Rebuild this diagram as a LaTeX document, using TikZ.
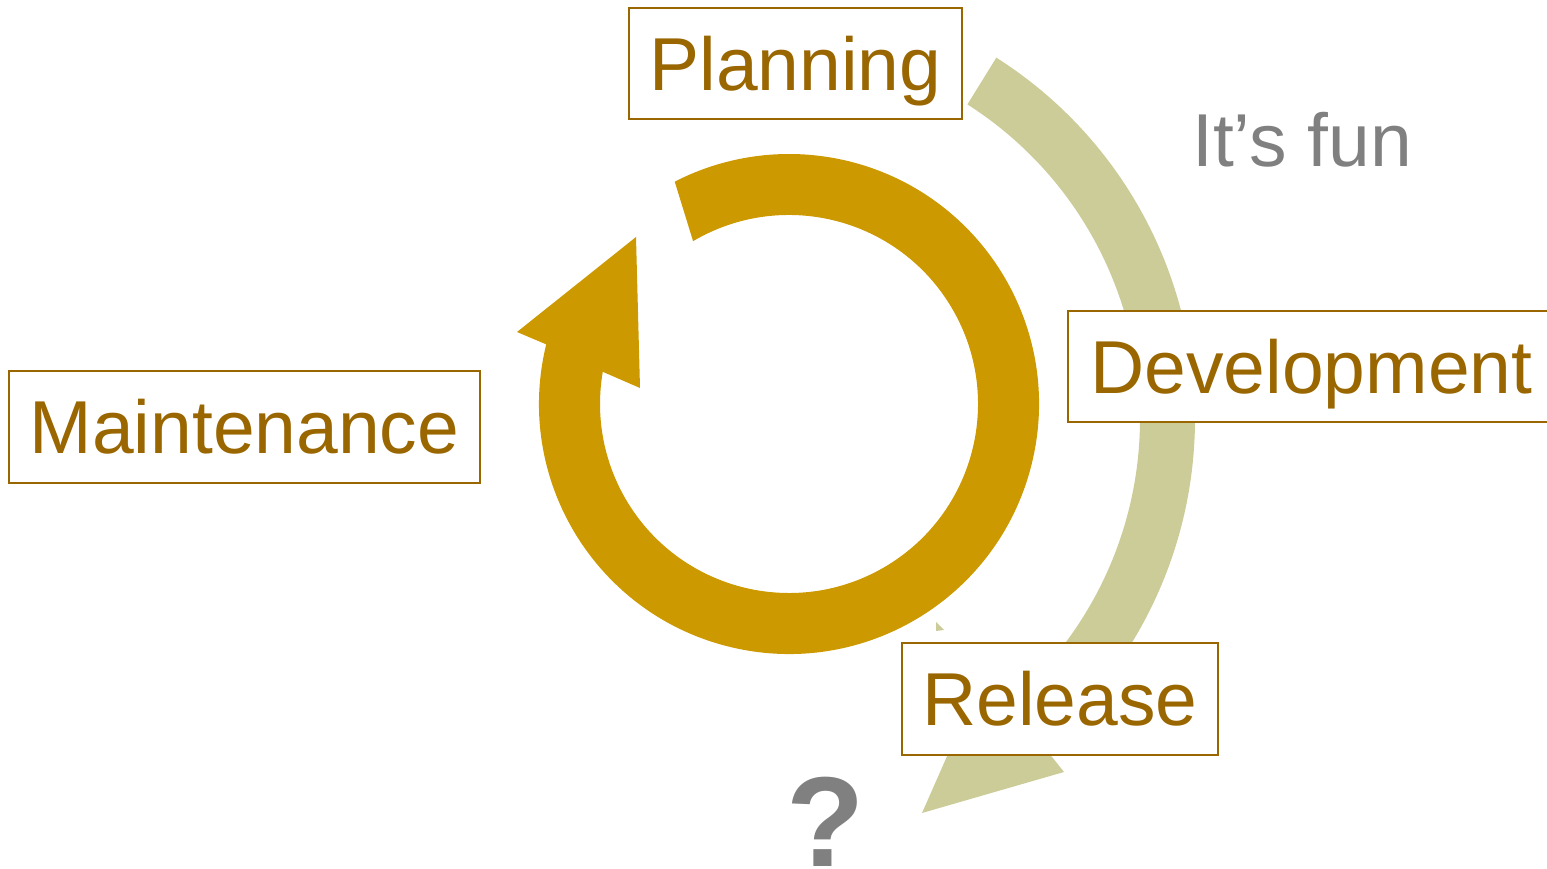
\documentclass[tikz,border=0pt]{standalone}
\usepackage{fontspec}
\setmainfont{Liberation Sans}
\usetikzlibrary{calc}
\definecolor{ringgold}{HTML}{CC9900}
\definecolor{olivearc}{HTML}{CCCC99}
\definecolor{stagebrown}{HTML}{996600}
\definecolor{fungrey}{HTML}{808080}
\begin{document}
\begin{tikzpicture}[x=1pt,y=1pt,
  stagebox/.style={draw=stagebrown, line width=2pt, fill=white, text=stagebrown,
    inner sep=0pt, text height=54pt, text depth=0pt,
    font=\fontsize{75}{80}\selectfont},
  stagetext/.style={fill=white, text=stagebrown, inner sep=0pt,
    text height=54pt, text depth=0pt, font=\fontsize{75}{80}\selectfont},
  boxline/.style={draw=stagebrown, line width=2pt},
  remark/.style={text=fungrey, inner sep=0pt, font=\fontsize{75}{80}\selectfont}]
\useasboundingbox (0,0) rectangle (1547,869);
% olive arc (behind boxes)
\coordinate (oc) at (767,450);
\fill[olivearc] ($(oc)+(57.6:428)$) arc[start angle=57.6,end angle=-49.8,radius=428pt]
  -- (1064,97) -- (922,56) -- (985,199)
  -- ($(oc)+(-49.4:373)$) arc[start angle=-49.4,end angle=57.5,radius=373pt] -- cycle;
\fill[olivearc] (936,247) -- (936,238) -- (944,239) -- cycle;
% gold ring
\coordinate (gc) at (789,465);
\fill[ringgold] ($(gc)+(166.2:250)$) arc[start angle=166.2,end angle=477.2,radius=250pt]
  -- ($(gc)+(120.5:189)$) arc[start angle=480.5,end angle=170.2,radius=189pt]
  -- (640,481) -- (636,632) -- (517,537) -- cycle;
% boxes
\node[stagebox, minimum width=333pt, minimum height=111pt] (plan) at (795.5,805.5) {Planning};
\node[stagebox, minimum width=471pt, minimum height=112pt] (maint) at (244.5,442) {Maintenance};
\node[stagebox, minimum width=316pt, minimum height=112pt] (rel) at (1060,170) {Release};
\node[stagetext, minimum width=479pt, minimum height=111pt] (dev) at (1307.5,502.5) {\hspace*{8pt}Development};
\draw[boxline] (dev.north east) -- (dev.north west) -- (dev.south west) -- (dev.south east);
% remarks
\node[remark, anchor=base west] (fun) at (1192,702) {It’s fun};
\node[text=fungrey, inner sep=0pt, anchor=base west, font=\bfseries\fontsize{128}{130}\selectfont] (q) at (786,2) {?};
\end{tikzpicture}
\end{document}
